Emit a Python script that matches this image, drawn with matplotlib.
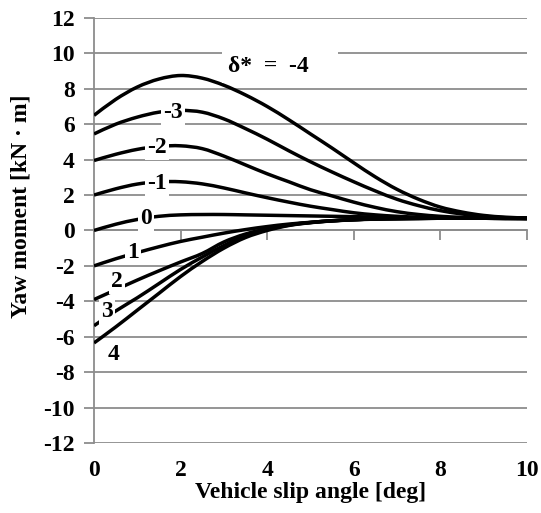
import numpy as np
import matplotlib.pyplot as plt
from matplotlib.path import Path
from matplotlib.patches import PathPatch

plt.rcParams['font.family'] = ['Liberation Serif', 'DejaVu Serif']
plt.rcParams['font.weight'] = 'bold'
plt.rcParams['axes.unicode_minus'] = False

slip = np.arange(0, 10.5, 0.5)

# yaw moment curves, one per delta* value
curves = {
    -4: [6.5, 7.4, 8.1, 8.55, 8.75, 8.6, 8.2, 7.65, 7.0, 6.25, 5.45, 4.65, 3.82, 3.02, 2.32, 1.76, 1.32, 1.04, 0.85, 0.75, 0.7],
    -3: [5.45, 6.0, 6.4, 6.68, 6.78, 6.68, 6.3, 5.75, 5.15, 4.5, 3.88, 3.3, 2.75, 2.23, 1.76, 1.4, 1.12, 0.93, 0.8, 0.72, 0.68],
    -2: [3.95, 4.3, 4.58, 4.75, 4.78, 4.62, 4.2, 3.7, 3.2, 2.75, 2.3, 1.95, 1.6, 1.3, 1.06, 0.9, 0.8, 0.74, 0.71, 0.7, 0.68],
    -1: [2.0, 2.35, 2.62, 2.75, 2.75, 2.63, 2.4, 2.12, 1.85, 1.6, 1.37, 1.18, 1.0, 0.88, 0.8, 0.75, 0.72, 0.7, 0.7, 0.69, 0.68],
    0: [0.0, 0.35, 0.62, 0.8, 0.88, 0.9, 0.9, 0.88, 0.86, 0.84, 0.82, 0.8, 0.78, 0.76, 0.74, 0.72, 0.71, 0.7, 0.7, 0.69, 0.68],
    1: [-2.0, -1.6, -1.25, -0.92, -0.62, -0.38, -0.15, 0.05, 0.22, 0.36, 0.46, 0.54, 0.6, 0.64, 0.66, 0.68, 0.69, 0.69, 0.69, 0.68, 0.68],
    2: [-3.9, -3.35, -2.8, -2.28, -1.78, -1.3, -0.65, -0.2, 0.1, 0.32, 0.45, 0.55, 0.61, 0.65, 0.67, 0.68, 0.69, 0.69, 0.69, 0.68, 0.68],
    3: [-5.38, -4.55, -3.8, -3.0, -2.2, -1.5, -0.85, -0.3, 0.05, 0.3, 0.45, 0.55, 0.61, 0.65, 0.67, 0.68, 0.69, 0.69, 0.69, 0.68, 0.68],
    4: [-6.35, -5.45, -4.5, -3.55, -2.6, -1.75, -1.0, -0.4, 0.0, 0.28, 0.44, 0.54, 0.61, 0.65, 0.67, 0.68, 0.69, 0.69, 0.69, 0.68, 0.68],
}

# where each curve label sits
label_pos = {
    -4: (3.09, 9.25, 'δ*  =  -4    '),
    -3: (1.83, 6.65, '-3'),
    -2: (1.45, 4.7, '-2'),
    -1: (1.45, 2.68, '-1'),
    0: (1.2, 0.7, '0'),
    1: (0.9, -1.25, '1'),
    2: (0.52, -2.9, '2'),
    3: (0.3, -4.6, '3'),
    4: (0.44, -7.0, '4'),
}

yticks = np.arange(-12, 13, 2)
xticks = np.arange(0, 11, 2)

grey = '#8c8c8c'
fs = 17


def smooth_path(x, y):
    # excel-like smoothed line: catmull-rom segments as cubic beziers
    p = np.column_stack([x, y])
    verts = [p[0]]
    codes = [Path.MOVETO]
    n = len(p)
    for i in range(n - 1):
        p0 = p[i - 1] if i > 0 else p[i]
        p3 = p[i + 2] if i + 2 < n else p[i + 1]
        c1 = p[i] + (p[i + 1] - p0) / 6
        c2 = p[i + 1] - (p3 - p[i]) / 6
        verts += [c1, c2, p[i + 1]]
        codes += [Path.CURVE4] * 3
    return Path(verts, codes)


fig = plt.figure(figsize=(5.41, 5.13), dpi=100)
ax = fig.add_axes([0.1738, 0.1365, 0.8002, 0.8285])

for k, vals in curves.items():
    ax.add_patch(PathPatch(smooth_path(slip, vals), fill=False, edgecolor='black',
                           lw=2.5, zorder=3, capstyle='butt'))

for k, (x, y, txt) in label_pos.items():
    bb = dict(facecolor='white', edgecolor='none', pad=1.5)
    ha = 'center'
    if k == 4:
        bb = None
    if k == -4:
        bb = dict(facecolor='white', edgecolor='none', pad=4)
        ha = 'left'
    ax.text(x, y, txt, ha=ha, va='center', fontsize=fs, fontweight='bold',
            bbox=bb, zorder=4)

ax.set_xlim(0, 10)
ax.set_ylim(-12, 12)
ax.set_yticks(yticks, [str(v) for v in yticks], fontsize=fs, fontweight='bold')
ax.set_xticks(xticks)

ax.grid(axis='y', color=grey, lw=1.3, zorder=1)
ax.set_axisbelow(True)

for s in ['top', 'right']:
    ax.spines[s].set_visible(False)
ax.spines['left'].set_color(grey)
ax.spines['left'].set_linewidth(1.3)
ax.spines['bottom'].set_position(('data', 0))
ax.spines['bottom'].set_color(grey)
ax.spines['bottom'].set_linewidth(1.3)

ax.tick_params(axis='y', direction='out', length=7, width=1.3, color=grey, pad=7)
ax.tick_params(axis='x', direction='out', length=7, width=1.3, color=grey,
               labelbottom=False)

sec = ax.secondary_xaxis(0)
sec.set_xticks(xticks, [str(v) for v in xticks], fontsize=fs, fontweight='bold')
sec.spines['bottom'].set_visible(False)
sec.tick_params(length=0, pad=12)
sec.set_xlabel('Vehicle slip angle [deg]', fontsize=fs, fontweight='bold', labelpad=1)

ax.set_ylabel('Yaw moment [kN · m]', fontsize=fs, fontweight='bold')
ax.yaxis.set_label_coords(-0.145, 0.558)

fig.savefig('out.png', dpi=100)
